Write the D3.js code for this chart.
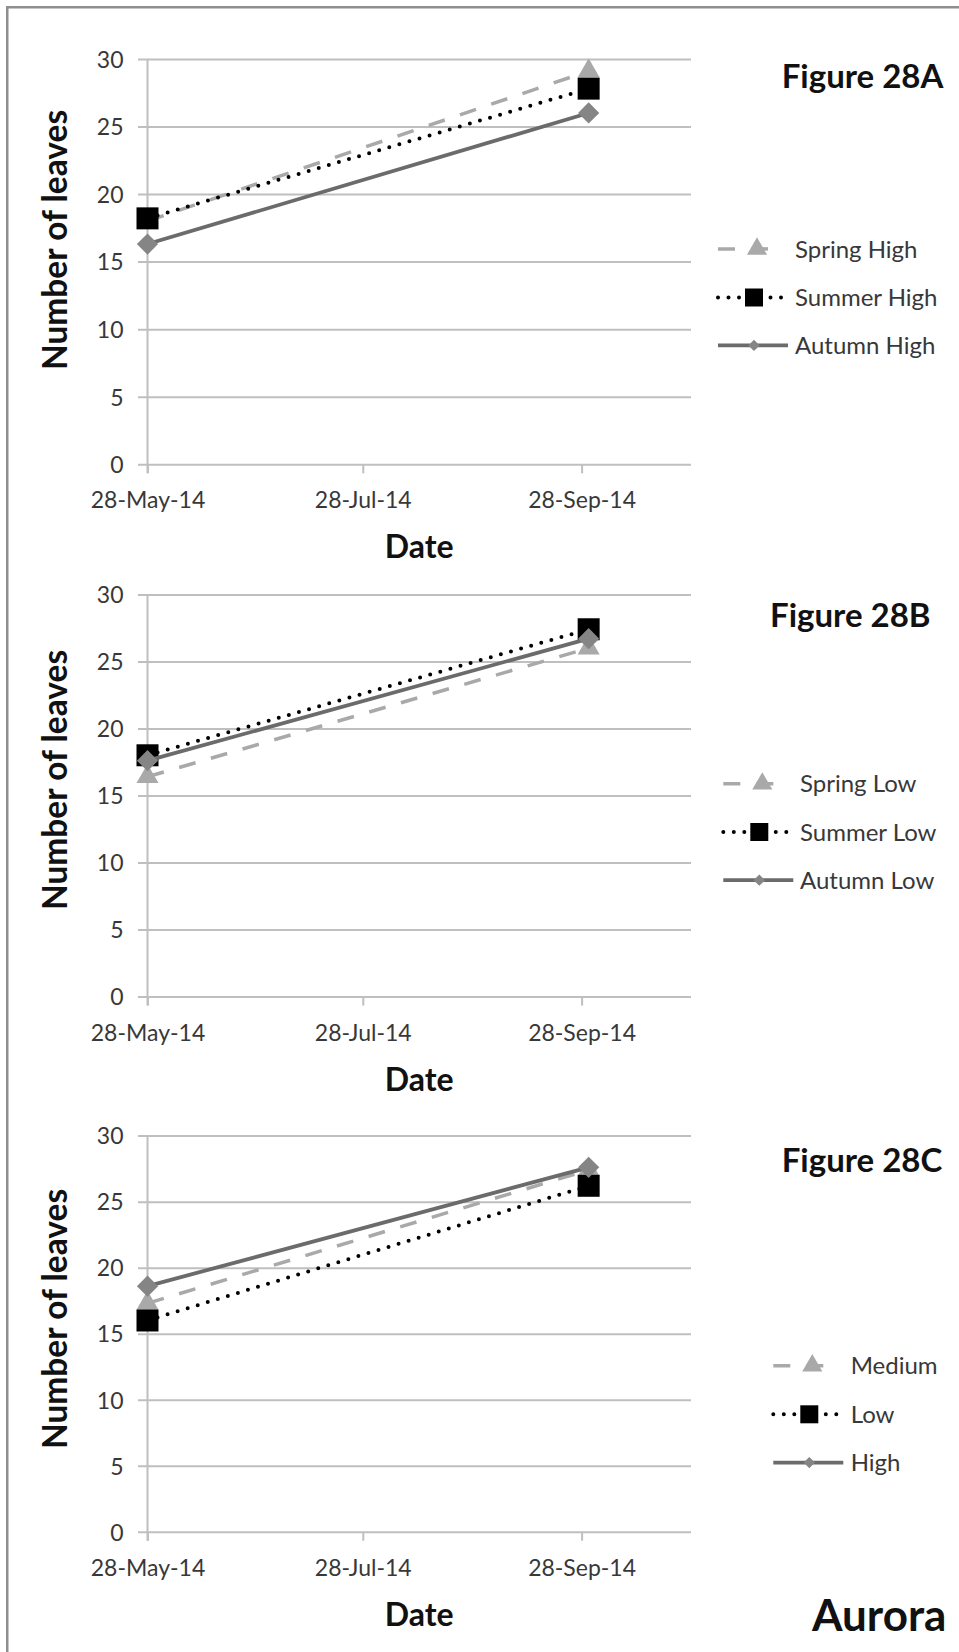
<!DOCTYPE html>
<html>
<head>
<meta charset="utf-8">
<script src="https://cdn.jsdelivr.net/npm/d3@7"></script>
<style>
  html, body { margin: 0; padding: 0; background: #fff; }
  svg { display: block; font-family: Lato, "Open Sans", sans-serif; }
</style>
</head>
<body>
<svg id="chart" width="959" height="1652"></svg>
<script>
// Sampling dates and axis ticks
const sampleDates = ["2014-05-28", "2014-09-30"];
const xTickDates = ["2014-05-28", "2014-07-28", "2014-09-28"];
const xTickLabels = ["28-May-14", "28-Jul-14", "28-Sep-14"];
const yTicks = [0, 5, 10, 15, 20, 25, 30];

// Figure 28A: high level, by planting season
const springHigh = [18.0, 29.1];
const summerHigh = [18.2, 27.8];
const autumnHigh = [16.3, 26.0];
const seriesNamesA = ["Spring High", "Summer High", "Autumn High"];

// Figure 28B: low level, by planting season
const springLow = [16.4, 26.0];
const summerLow = [18.0, 27.4];
const autumnLow = [17.6, 26.7];
const seriesNamesB = ["Spring Low", "Summer Low", "Autumn Low"];

// Figure 28C: by level
const mediumLevel = [17.3, 27.4];
const lowLevel = [16.0, 26.2];
const highLevel = [18.6, 27.6];
const seriesNamesC = ["Medium", "Low", "High"];

const panelTitles = ["Figure 28A", "Figure 28B", "Figure 28C"];
const xAxisTitle = "Date";
const yAxisTitle = "Number of leaves";
const cultivarName = "Aurora";

const panelSeries = [
  [springHigh, summerHigh, autumnHigh],
  [springLow, summerLow, autumnLow],
  [mediumLevel, lowLevel, highLevel]
];
const panelNames = [seriesNamesA, seriesNamesB, seriesNamesC];

// ---- layout ----
const W = 959, H = 1652;
const plotLeft = 147.5, plotRight = 691, gridLeft = 138;
const layouts = [
  { y0: 464.3, y30: 58.9, yTitleY: 240, titleX: 781.7, titleY: 87.5,
    legX: 718, legTextX: 795, legY: [248.9, 297.5, 345.4] },
  { y0: 996.6, y30: 594.4, yTitleY: 780, titleX: 770, titleY: 627.1,
    legX: 723.3, legTextX: 800, legY: [783.8, 832, 880.2] },
  { y0: 1531.8, y30: 1135.6, yTitleY: 1319, titleX: 781.7, titleY: 1172.2,
    legX: 773.3, legTextX: 850.7, legY: [1365.7, 1414.3, 1462.6] }
];

// line / marker styles, one per series position
const styles = [
  { stroke: "#a9a9a9", width: 3.5, dash: "17 16", cap: "butt", shape: "triangle", fill: "#a9a9a9",
    size: 210, legSize: 175, legLen: 55, legMark: 39 },
  { stroke: "#000000", width: 4, dash: "0 10.5", cap: "round", shape: "square", fill: "#000000",
    size: 484, legSize: 324, legLen: 66, legMark: 36 },
  { stroke: "#6b6b6b", width: 3.8, dash: null, cap: "butt", shape: "diamond", fill: "#858585",
    size: 225, legSize: 64, legLen: 70, legMark: 36 }
];

const gridColor = "#bfbfbf";
const tickTextColor = "#383838";

const parseDate = d3.utcParse("%Y-%m-%d");
const x = d3.scaleUtc()
  .domain([parseDate("2014-05-28"), parseDate("2014-10-29")])
  .range([plotLeft, plotRight]);

const svg = d3.select("#chart");

svg.append("rect").attr("x", 0).attr("y", 0).attr("width", W).attr("height", H).attr("fill", "#fff");
// outer frame
svg.append("rect")
  .attr("x", 7.25).attr("y", 7.25).attr("width", 1000).attr("height", 1700)
  .attr("fill", "none").attr("stroke", "#8e8e8e").attr("stroke-width", 2.5);

function symbolFor(shape, size) {
  const type = shape === "triangle" ? d3.symbolTriangle : d3.symbolSquare;
  return d3.symbol().type(type).size(size)();
}

layouts.forEach((L, p) => {
  const g = svg.append("g");
  const y = d3.scaleLinear().domain([0, 30]).range([L.y0, L.y30]);

  // horizontal gridlines with y tick labels
  const yAxis = d3.axisLeft(y)
    .tickValues(yTicks)
    .tickSizeInner(-(plotRight - gridLeft))
    .tickSizeOuter(0)
    .tickPadding(14.5)
    .tickFormat(d3.format("d"));
  const gy = g.append("g").attr("transform", `translate(${gridLeft},0)`).call(yAxis);
  gy.select(".domain").remove();
  gy.selectAll(".tick line").attr("stroke", gridColor).attr("stroke-width", 2);
  gy.selectAll(".tick text")
    .attr("fill", tickTextColor).attr("font-size", 23).attr("dy", "0.36em")
    .attr("font-family", "Lato, 'Open Sans', sans-serif");

  // vertical value axis line
  g.append("line")
    .attr("x1", plotLeft).attr("x2", plotLeft)
    .attr("y1", y(30)).attr("y2", y(0) + 9)
    .attr("stroke", gridColor).attr("stroke-width", 2);

  // date axis ticks and labels
  const xAxis = d3.axisBottom(x)
    .tickValues(xTickDates.map(parseDate))
    .tickSizeInner(9).tickSizeOuter(0)
    .tickFormat((d, i) => xTickLabels[i]);
  const gx = g.append("g").attr("transform", `translate(0,${y(0)})`).call(xAxis);
  gx.select(".domain").remove();
  gx.selectAll(".tick line").attr("stroke", gridColor).attr("stroke-width", 2);
  gx.selectAll(".tick text")
    .attr("fill", tickTextColor).attr("font-size", 23)
    .attr("y", 44).attr("dy", null)
    .attr("font-family", "Lato, 'Open Sans', sans-serif");

  // axis titles
  g.append("text")
    .attr("x", (plotLeft + plotRight) / 2).attr("y", y(0) + 94)
    .attr("text-anchor", "middle").attr("font-weight", 700).attr("font-size", 32)
    .attr("fill", "#111").text(xAxisTitle);
  g.append("text")
    .attr("transform", `translate(67,${L.yTitleY}) rotate(-90)`)
    .attr("text-anchor", "middle").attr("font-weight", 700).attr("font-size", 33.5)
    .attr("fill", "#111").text(yAxisTitle);

  // panel title
  g.append("text")
    .attr("x", L.titleX).attr("y", L.titleY)
    .attr("font-weight", 700).attr("font-size", 33).attr("fill", "#111")
    .text(panelTitles[p]);

  // series lines then markers
  const line = d3.line().x(d => x(d.date)).y(d => y(d.value));
  panelSeries[p].forEach((vals, s) => {
    const st = styles[s];
    const pts = vals.map((v, i) => ({ date: parseDate(sampleDates[i]), value: v }));
    const sg = g.append("g");
    sg.append("path")
      .attr("d", line(pts))
      .attr("fill", "none")
      .attr("stroke", st.stroke).attr("stroke-width", st.width)
      .attr("stroke-dasharray", st.dash).attr("stroke-linecap", st.cap);
    sg.selectAll("path.marker").data(pts).join("path")
      .attr("class", "marker")
      .attr("d", symbolFor(st.shape, st.size))
      .attr("transform", d => `translate(${x(d.date)},${y(d.value)})` + (st.shape === "diamond" ? " rotate(45)" : ""))
      .attr("fill", st.fill);
  });

  // legend
  panelNames[p].forEach((name, s) => {
    const st = styles[s];
    const ly = L.legY[s];
    const lg = g.append("g");
    lg.append("line")
      .attr("x1", L.legX).attr("x2", L.legX + st.legLen)
      .attr("y1", ly).attr("y2", ly)
      .attr("stroke", st.stroke).attr("stroke-width", st.width)
      .attr("stroke-dasharray", st.dash).attr("stroke-linecap", st.cap);
    lg.append("path")
      .attr("d", symbolFor(st.shape, st.legSize))
      .attr("transform", `translate(${L.legX + st.legMark},${ly})` + (st.shape === "diamond" ? " rotate(45)" : ""))
      .attr("fill", st.fill);
    lg.append("text")
      .attr("x", L.legTextX).attr("y", ly).attr("dy", "0.36em")
      .attr("font-size", 24).attr("fill", tickTextColor)
      .text(name);
  });
});

// cultivar label
svg.append("text")
  .attr("x", 812).attr("y", 1630.7)
  .attr("font-weight", 700).attr("font-size", 44).attr("fill", "#111")
  .text(cultivarName);
</script>
</body>
</html>
